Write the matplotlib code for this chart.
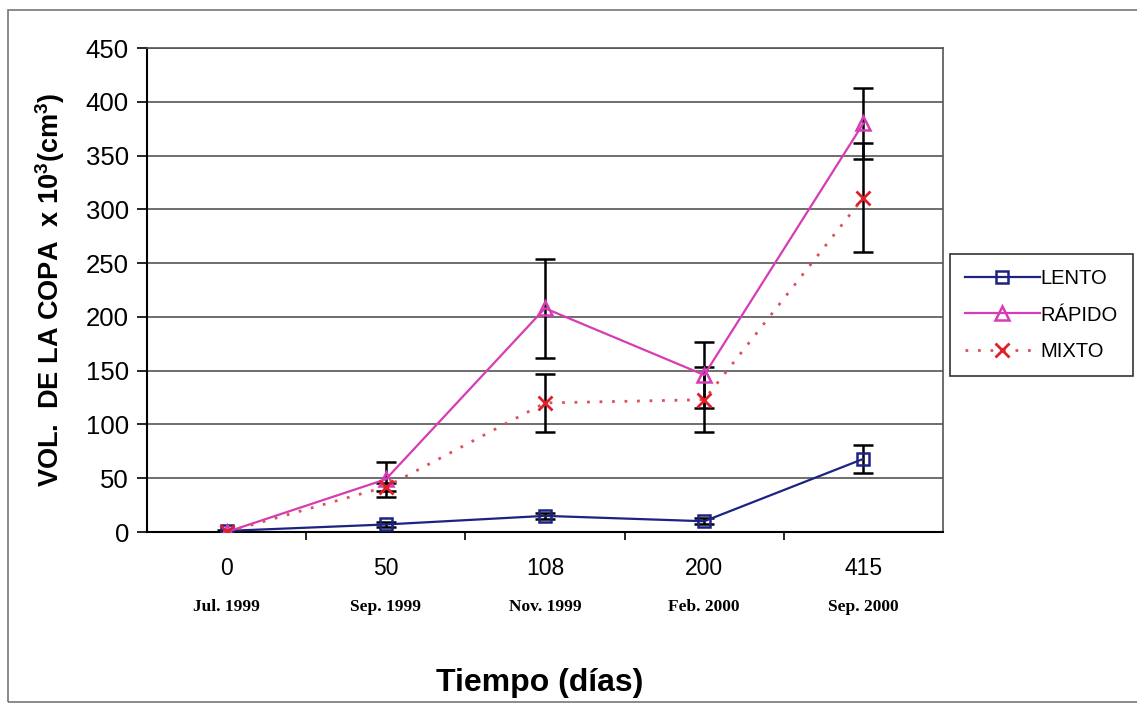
import matplotlib
matplotlib.use("Agg")
import matplotlib.pyplot as plt
from matplotlib.patches import Rectangle

plt.rcParams["font.family"] = ["Liberation Sans", "DejaVu Sans"]
plt.rcParams["mathtext.fontset"] = "custom"
plt.rcParams["mathtext.rm"] = "Liberation Sans:bold"
plt.rcParams["mathtext.bf"] = "Liberation Sans:bold"

# data
dias = ["0", "50", "108", "200", "415"]
fechas = ["Jul. 1999", "Sep. 1999", "Nov. 1999", "Feb. 2000", "Sep. 2000"]

lento = [1, 7, 15, 10, 68]
lento_err = [1, 2, 3, 3, 13]
rapido = [0, 49, 208, 146, 380]
rapido_err = [0, 16, 46, 31, 33]
mixto = [0, 42, 120, 123, 311]
mixto_err = [0, 4, 27, 30, 51]

y_ticks = [0, 50, 100, 150, 200, 250, 300, 350, 400, 450]

fig = plt.figure(figsize=(11.37, 7.06), dpi=100)
ax = fig.add_axes([147 / 1137, 1 - 532 / 706, (943 - 147) / 1137, (532 - 48) / 706])

# outer chart border
fig.patches.append(Rectangle((8 / 1137, 4 / 706), 1.2, 692 / 706,
                             transform=fig.transFigure, fill=False,
                             edgecolor="#777777", linewidth=1.2))

x = list(range(len(dias)))

for vals, errs in [(lento, lento_err), (rapido, rapido_err), (mixto, mixto_err)]:
    ax.errorbar(x, vals, yerr=errs, fmt="none", ecolor="black",
                elinewidth=1.8, capsize=7, capthick=1.8, zorder=2)

ax.plot(x, lento, color="#1c2383", linewidth=1.6, marker="s", markersize=9,
        markerfacecolor="none", markeredgecolor="#1c2383", markeredgewidth=1.8,
        label="LENTO", zorder=3)
ax.plot(x, rapido, color="#d63cb4", linewidth=1.6, marker="^", markersize=10,
        markerfacecolor="none", markeredgecolor="#d63cb4", markeredgewidth=1.8,
        label="RÁPIDO", zorder=3)
ax.plot(x, mixto, color="#d9535a", linewidth=2.0, linestyle=(0, (1, 3.5)),
        marker="x", markersize=10, markeredgecolor="#e01f2a", markeredgewidth=2.0,
        label="MIXTO", zorder=3)

ax.set_xlim(-0.5, 4.5)
ax.set_ylim(0, 450)
ax.set_yticks(y_ticks)
ax.set_yticklabels([str(v) for v in y_ticks], fontsize=18.5)
ax.yaxis.grid(True, color="#555555", linewidth=1.2)
ax.set_axisbelow(True)

ax.set_xticks(x)
ax.set_xticklabels(dias, fontsize=16.5)
ax.set_xticks([0.5, 1.5, 2.5, 3.5], minor=True)
ax.tick_params(axis="x", which="major", length=0, pad=18)
ax.tick_params(axis="x", which="minor", length=6, width=1.2, direction="out")
ax.tick_params(axis="y", length=7, width=1.2, direction="out", pad=6)

for sp in ["left", "bottom"]:
    ax.spines[sp].set_linewidth(1.5)
    ax.spines[sp].set_color("black")
for sp in ["top", "right"]:
    ax.spines[sp].set_linewidth(1.2)
    ax.spines[sp].set_color("#555555")

for xi, f in zip(x, fechas):
    ax.text(xi, -0.155, f, transform=ax.get_xaxis_transform(), ha="center",
            va="center", fontsize=12.5, fontweight="bold",
            family=["Liberation Serif", "DejaVu Serif"])

fig.text(540 / 1137, 1 - 683 / 706, "Tiempo (días)", ha="center", va="center",
         fontsize=23, fontweight="bold")
fig.text(50 / 1137, 1 - 290 / 706,
         r"VOL.  DE LA COPA  x 10$^{3}$(cm$^{3}$)", rotation=90,
         ha="center", va="center", fontsize=19.5, fontweight="bold")

leg = ax.legend(loc="center left", bbox_to_anchor=(950 / 1137, 1 - 315 / 706),
                bbox_transform=fig.transFigure, fontsize=14.5, frameon=True,
                fancybox=False, edgecolor="black", handlelength=3.7,
                handletextpad=0.05, labelspacing=0.85, borderpad=0.75,
                borderaxespad=0)
leg.get_frame().set_linewidth(1.2)

fig.savefig("out.png", dpi=100)
